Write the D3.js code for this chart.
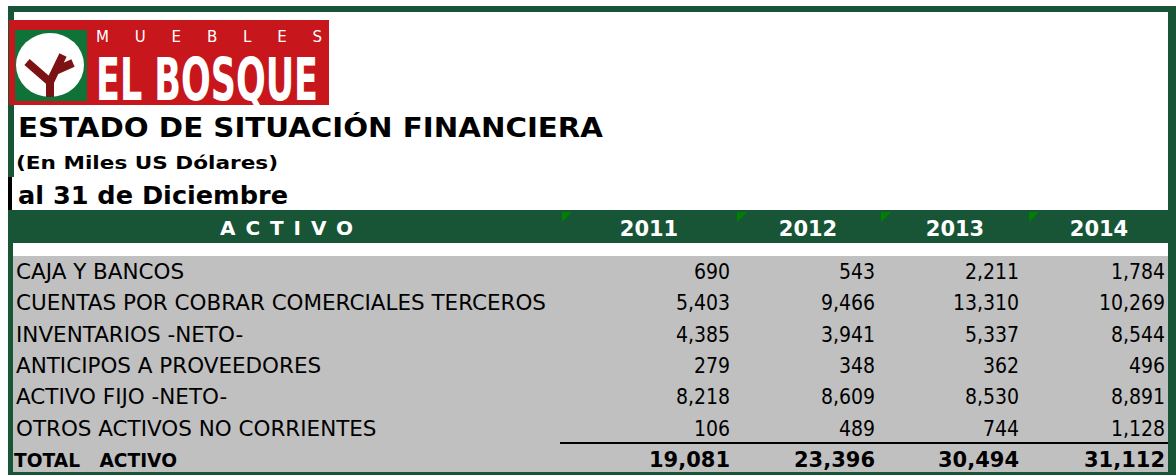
<!DOCTYPE html>
<html>
<head>
<meta charset="utf-8">
<script src="https://cdn.jsdelivr.net/npm/d3@7"></script>
<style>
  body { margin: 0; background: #fff; }
  svg { display: block; }
</style>
</head>
<body>
<svg></svg>
<script>
var width = 1176;
var height = 475;
var green = "#185436";

// data
var labels = [
  "CAJA Y BANCOS",
  "CUENTAS POR COBRAR COMERCIALES TERCEROS",
  "INVENTARIOS -NETO-",
  "ANTICIPOS A PROVEEDORES",
  "ACTIVO FIJO -NETO-",
  "OTROS ACTIVOS NO CORRIENTES"
];
var years = ["2011", "2012", "2013", "2014"];
var v2011 = [690, 5403, 4385, 279, 8218, 106];
var v2012 = [543, 9466, 3941, 348, 8609, 489];
var v2013 = [2211, 13310, 5337, 362, 8530, 744];
var v2014 = [1784, 10269, 8544, 496, 8891, 1128];
var series = [v2011, v2012, v2013, v2014];
var totalLabel = "TOTAL   ACTIVO";
var totals = series.map(s => d3.sum(s));

var fmt = d3.format(",");

var svg = d3.select("svg")
    .attr("width", width)
    .attr("height", height);

// scales
var yScale = d3.scaleBand()
    .domain(labels.concat([totalLabel]))
    .range([254, 473.3]);

var xNum = d3.scaleOrdinal().domain(years).range([730, 875, 1019, 1165]);
var xHead = d3.scaleOrdinal().domain(years).range([649, 808, 955, 1099]);
var xCol = d3.scaleOrdinal().domain(years).range([562, 737, 881, 1029]);

// frame
svg.append("rect").attr("x", 8).attr("y", 6).attr("width", 1168).attr("height", 6).attr("fill", green);
svg.append("rect").attr("x", 1168).attr("y", 6).attr("width", 8).attr("height", 469).attr("fill", green);
svg.append("rect").attr("x", 8).attr("y", 6).attr("width", 6).attr("height", 171).attr("fill", green);
svg.append("rect").attr("x", 8).attr("y", 177).attr("width", 4).attr("height", 33).attr("fill", "#000");
svg.append("rect").attr("x", 8).attr("y", 243).attr("width", 5).attr("height", 232).attr("fill", green);
svg.append("rect").attr("x", 8).attr("y", 472).attr("width", 1168).attr("height", 3).attr("fill", green);

// logo
var logo = svg.append("g");
logo.append("rect").attr("x", 9).attr("y", 20).attr("width", 320).attr("height", 85).attr("fill", "#c8161d");
logo.append("rect").attr("x", 15).attr("y", 30).attr("width", 72).attr("height", 71).attr("fill", "#0f7237");
logo.append("ellipse").attr("cx", 50).attr("cy", 65).attr("rx", 34).attr("ry", 32).attr("fill", "#fff");
logo.append("path")
    .attr("d", "M27,62 L50,82 L50,97 M50,82 L63,55 M55,71 L73,63")
    .attr("fill", "none")
    .attr("stroke", "#7d1214")
    .attr("stroke-width", 8);
logo.append("text")
    .attr("x", 96).attr("y", 42)
    .attr("font-family", "DejaVu Sans")
    .attr("font-size", 15)
    .attr("fill", "#fff")
    .attr("textLength", 226)
    .attr("lengthAdjust", "spacing")
    .text("MUEBLES");
logo.append("text")
    .attr("x", 96).attr("y", 100)
    .attr("font-family", "DejaVu Sans Condensed")
    .attr("font-weight", "bold")
    .attr("font-size", 58)
    .attr("fill", "#fff")
    .attr("textLength", 222)
    .attr("lengthAdjust", "spacingAndGlyphs")
    .text("EL BOSQUE");

// titles
var titles = [
  {t: "ESTADO DE SITUACIÓN FINANCIERA", x: 18, y: 137, s: 26, w: 585},
  {t: "(En Miles US Dólares)", x: 16, y: 169, s: 17, w: 262},
  {t: "al 31 de Diciembre", x: 18, y: 204, s: 24, w: 270}
];
svg.selectAll(".title")
  .data(titles)
  .enter().append("text")
    .attr("class", "title")
    .attr("x", d => d.x)
    .attr("y", d => d.y)
    .attr("font-family", "DejaVu Sans")
    .attr("font-weight", "bold")
    .attr("font-size", d => d.s)
    .attr("textLength", d => d.w)
    .attr("lengthAdjust", "spacingAndGlyphs")
    .text(d => d.t);

// header band
svg.append("rect").attr("x", 8).attr("y", 210).attr("width", 1168).attr("height", 33).attr("fill", green);
svg.append("text")
    .attr("x", 220).attr("y", 235)
    .attr("font-family", "DejaVu Sans")
    .attr("font-weight", "bold")
    .attr("font-size", 20)
    .attr("fill", "#fff")
    .attr("textLength", 133)
    .attr("lengthAdjust", "spacing")
    .text("ACTIVO");

svg.selectAll(".tri")
  .data(years)
  .enter().append("path")
    .attr("class", "tri")
    .attr("d", d => "M" + xCol(d) + ",212 l10,0 l-10,10 Z")
    .attr("fill", "#008000");

svg.selectAll(".year")
  .data(years)
  .enter().append("text")
    .attr("class", "year")
    .attr("x", d => xHead(d))
    .attr("y", 236)
    .attr("text-anchor", "middle")
    .attr("font-family", "DejaVu Sans")
    .attr("font-weight", "bold")
    .attr("font-size", 21)
    .attr("fill", "#fff")
    .text(d => d);

// body
svg.append("rect").attr("x", 13).attr("y", 256).attr("width", 1155).attr("height", 216).attr("fill", "#c0c0c0");

svg.selectAll(".label")
  .data(labels)
  .enter().append("text")
    .attr("class", "label")
    .attr("x", 16)
    .attr("y", d => yScale(d) + 25)
    .attr("font-family", "DejaVu Sans")
    .attr("font-size", 20.5)
    .text(d => d);

// squeeze labels so the longest one matches the reference width
var longest = d3.max(svg.selectAll(".label").nodes(), n => n.getComputedTextLength());
var k = 530 / longest;
svg.selectAll(".label").each(function() {
  d3.select(this)
      .attr("textLength", this.getComputedTextLength() * k)
      .attr("lengthAdjust", "spacingAndGlyphs");
});

years.forEach(function(yr, j) {
  svg.selectAll(".num" + yr)
    .data(series[j])
    .enter().append("text")
      .attr("class", "num" + yr)
      .attr("x", xNum(yr))
      .attr("y", (d, i) => yScale(labels[i]) + 25)
      .attr("text-anchor", "end")
      .attr("font-family", "DejaVu Sans Condensed")
      .attr("font-size", 21)
      .text(d => fmt(d));
});

svg.append("line")
    .attr("x1", 560).attr("x2", 1168)
    .attr("y1", 443).attr("y2", 443)
    .attr("stroke", "#000")
    .attr("stroke-width", 2);

svg.append("text")
    .attr("x", 14)
    .attr("y", yScale(totalLabel) + 25)
    .attr("font-family", "DejaVu Sans")
    .attr("font-weight", "bold")
    .attr("font-size", 19)
    .attr("textLength", 163)
    .attr("lengthAdjust", "spacingAndGlyphs")
    .style("white-space", "pre")
    .text(totalLabel);

svg.selectAll(".total")
  .data(totals)
  .enter().append("text")
    .attr("class", "total")
    .attr("x", (d, i) => xNum(years[i]))
    .attr("y", yScale(totalLabel) + 25)
    .attr("text-anchor", "end")
    .attr("font-family", "DejaVu Sans")
    .attr("font-weight", "bold")
    .attr("font-size", 21)
    .text(d => fmt(d));
</script>
</body>
</html>
